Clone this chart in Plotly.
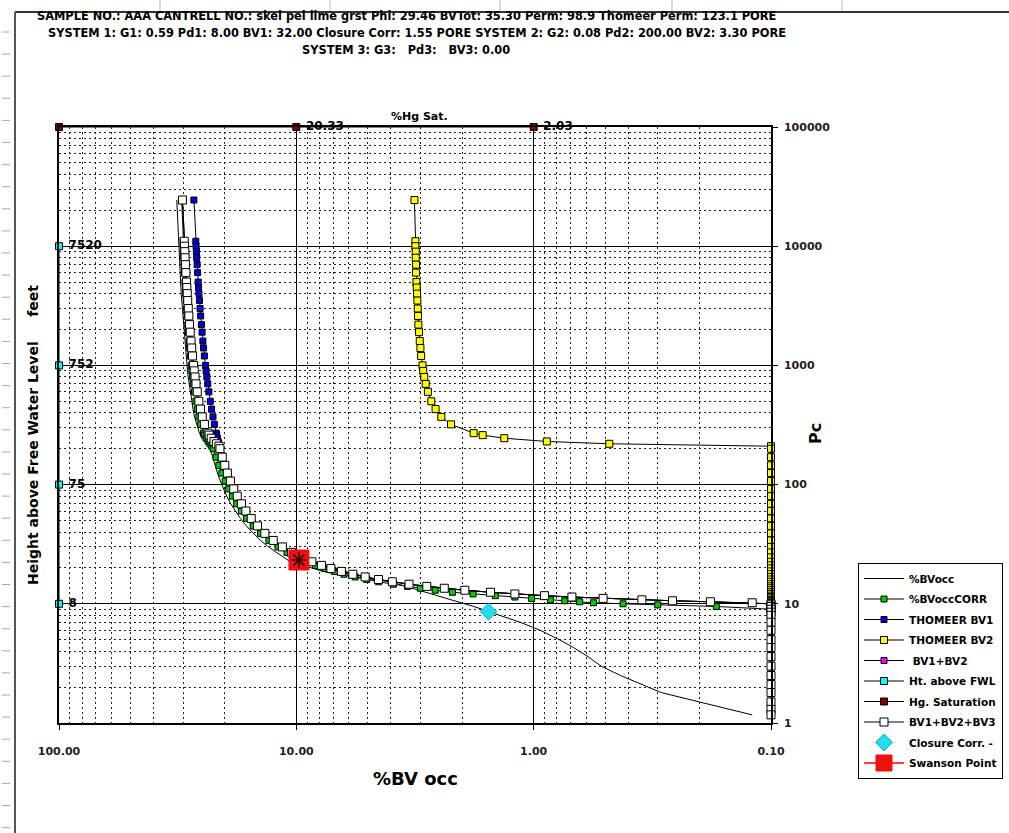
import plotly.graph_objects as go

# ---------------- data ----------------
pc = [24400, 11000, 10000, 9000, 8000, 7000, 6000, 5000, 4500, 4000,
      3500, 3000, 2600, 2200, 1900, 1600, 1400, 1200, 1000, 900,
      800, 700, 600, 500, 430, 370, 320, 270, 260, 245,
      230, 220, 210, 200, 170, 145, 125, 107, 92, 80,
      69, 60, 52, 45, 39, 34, 30, 27, 24.5, 22.5,
      21, 19.8, 18.7, 17.7, 16.8, 16, 15.3, 14.6, 14, 13.5,
      13, 12.5, 12.1, 11.7, 11.4, 11.1, 10.8, 10.6, 10.4, 10.2,
      10.0, 9.8, 9.5, 9.0, 8.5, 8.0, 7.0, 6.0, 5.0, 4.3,
      3.6, 3.0, 2.5, 2.1, 1.8, 1.5, 1.3, 1.17]

bvocc = [31.9, 31.4, 31.3, 31.2, 31.15, 31.05, 30.9, 30.75, 30.65, 30.55,
         30.4, 30.25, 30.1, 29.9, 29.75, 29.55, 29.35, 29.15, 28.9, 28.75,
         28.55, 28.3, 28.0, 27.6, 27.25, 26.85, 26.35, 25.6, 25.35, 24.95,
         24.4, 23.9, 23.3, 23.05, 22.55, 22.05, 21.5, 20.9, 20.3, 19.65,
         18.9, 18.1, 17.2, 16.25, 15.2, 14.15, 13.1, 12.15, 11.3, 10.6,
         9.4, 8.5, 7.7, 6.8, 5.6, 4.7, 4.03, 3.71, 3.45, 3.24,
         3.03, 2.83, 2.67, 2.52, 2.41, 2.30, 2.19, 2.12, 2.05, 1.98,
         1.92, 1.87, 1.79, 1.65, 1.53, 1.39, 1.14, 0.94, 0.78, 0.68,
         0.59, 0.52, 0.43, 0.35, 0.29, 0.20, 0.15, 0.12]

bvocc_corr = [30.4, 30.0, 29.9, 29.85, 29.8, 29.7, 29.6, 29.45, 29.35, 29.25,
              29.1, 28.95, 28.8, 28.65, 28.5, 28.3, 28.15, 27.95, 27.7, 27.55,
              27.35, 27.15, 26.85, 26.5, 26.15, 25.75, 25.3, 24.6, 24.4, 24.0,
              23.5, 23.1, 22.7, 22.4, 21.8, 21.2, 20.6, 19.95, 19.3, 18.6,
              17.85, 17.05, 16.2, 15.2, 14.15, 13.05, 11.95, 10.95, 9.95, 9.05,
              8.3, 7.6, 6.9, 6.3, 5.65, 5.05, 4.5, 3.9, 3.4, 3.0,
              2.6, 2.2, 1.8, 1.45, 1.2, 1.02, 0.85, 0.74, 0.64, 0.56,
              0.42, 0.3, 0.17, 0.1, 0.1, 0.1, 0.1, 0.1, 0.1, 0.1,
              0.1, 0.1, 0.1, 0.1, 0.1, 0.1, 0.1, 0.1]

thomeer_bv1 = [27.01, 26.52, 26.45, 26.37, 26.29, 26.19, 26.06, 25.91, 25.82, 25.72,
               25.59, 25.44, 25.30, 25.12, 24.96, 24.76, 24.60, 24.40, 24.15, 24.00,
               23.82, 23.62, 23.36, 23.04, 22.76, 22.45, 22.14, 21.75, 21.66, 21.51,
               21.35, 21.24, 21.11, 20.98, 20.52, 20.02, 19.52, 18.95, 18.35, 17.74,
               17.03, 16.31, 15.49, 14.57, 13.57, 12.51, 11.45, 10.47, 9.51, 8.60,
               7.83, 7.15, 6.46, 5.78, 5.13, 4.51, 3.94, 3.35, 2.82, 2.38,
               1.95, 1.52, 1.20, 0.90, 0.69, 0.51, 0.35, 0.26, 0.18, 0.12,
               0.1, 0.1, 0.1, 0.1, 0.1, 0.1, 0.1, 0.1, 0.1, 0.1,
               0.1, 0.1, 0.1, 0.1, 0.1, 0.1, 0.1, 0.1]

thomeer_bv2 = [3.18, 3.15, 3.15, 3.14, 3.14, 3.13, 3.13, 3.12, 3.11, 3.10,
               3.09, 3.08, 3.07, 3.06, 3.04, 3.02, 3.00, 2.98, 2.94, 2.92,
               2.89, 2.85, 2.79, 2.70, 2.59, 2.45, 2.23, 1.79, 1.64, 1.33,
               0.88, 0.48, 0.1, 0.1, 0.1, 0.1, 0.1, 0.1, 0.1, 0.1,
               0.1, 0.1, 0.1, 0.1, 0.1, 0.1, 0.1, 0.1, 0.1, 0.1,
               0.1, 0.1, 0.1, 0.1, 0.1, 0.1, 0.1, 0.1, 0.1, 0.1,
               0.1, 0.1, 0.1, 0.1, 0.1, 0.1, 0.1, 0.1, 0.1, 0.1,
               0.1, 0.1, 0.1, 0.1, 0.1, 0.1, 0.1, 0.1, 0.1, 0.1,
               0.1, 0.1, 0.1, 0.1, 0.1, 0.1, 0.1, 0.1]

bv1_bv2 = [30.19, 29.67, 29.60, 29.51, 29.43, 29.32, 29.19, 29.03, 28.93, 28.82,
           28.68, 28.52, 28.37, 28.18, 28.00, 27.78, 27.60, 27.38, 27.09, 26.92,
           26.71, 26.47, 26.15, 25.74, 25.35, 24.90, 24.37, 23.54, 23.30, 22.84,
           22.23, 21.72, 21.19, 20.98, 20.52, 20.02, 19.52, 18.95, 18.35, 17.74,
           17.03, 16.31, 15.49, 14.57, 13.57, 12.51, 11.45, 10.47, 9.51, 8.60,
           7.83, 7.15, 6.46, 5.78, 5.13, 4.51, 3.94, 3.35, 2.82, 2.38,
           1.95, 1.52, 1.20, 0.90, 0.69, 0.51, 0.35, 0.26, 0.18, 0.12,
           0.1, 0.1, 0.1, 0.1, 0.1, 0.1, 0.1, 0.1, 0.1, 0.1,
           0.1, 0.1, 0.1, 0.1, 0.1, 0.1, 0.1, 0.1]
bv1_bv2_bv3 = bv1_bv2  # BV3 = 0.00

ht_x = [100, 100, 100, 100]
ht_pc = [10000, 1000, 100, 10]
ht_labels = ["7520", "752", "75", "8"]

hg_x = [100, 10, 1]
hg_pc = [100000, 100000, 100000]
hg_labels = ["", "20.33", "2.03"]

closure_x = [1.55]
closure_pc = [8.6]

swanson_x = [9.75]
swanson_pc = [23.3]

title_lines = [
    "SAMPLE NO.: AAA CANTRELL NO.: skel pel lime grst Phi: 29.46 BVTot: 35.30 Perm: 98.9 Thomeer Perm: 123.1 PORE",
    "SYSTEM 1: G1: 0.59 Pd1: 8.00 BV1: 32.00 Closure Corr: 1.55 PORE SYSTEM 2: G2: 0.08 Pd2: 200.00 BV2: 3.30 PORE",
    "SYSTEM 3: G3:   Pd3:   BV3: 0.00",
]

# ---------------- layout helpers ----------------
W, H = 1009, 833
L, R, T, B = 59, 771, 127, 723
FONT = "DejaVu Sans"


def px(xp):
    return (xp - L) / (R - L)


def py(yp):
    return (B - yp) / (B - T)


fig = go.Figure()


def sq(color, size=6, symbol="square"):
    return dict(symbol=symbol, size=size, color=color, line=dict(color="black", width=1))


line_k = dict(color="black", width=1)
lblfont = dict(family=FONT, size=12, color="black", weight="bold")

fig.add_trace(go.Scatter(x=bvocc, y=pc, name="%BVocc", mode="lines", line=line_k))
fig.add_trace(go.Scatter(x=bvocc_corr, y=pc, name="%BVoccCORR", mode="lines+markers",
                         line=line_k, marker=sq("#00CC00", 6)))
fig.add_trace(go.Scatter(x=thomeer_bv1, y=pc, name="THOMEER BV1", mode="lines+markers",
                         line=line_k, marker=sq("#0000DD", 6)))
fig.add_trace(go.Scatter(x=thomeer_bv2, y=pc, name="THOMEER BV2", mode="lines+markers",
                         line=line_k, marker=sq("#FFFF00", 7)))
fig.add_trace(go.Scatter(x=bv1_bv2, y=pc, name=" BV1+BV2", mode="lines+markers",
                         line=line_k, marker=sq("#FF00FF", 6)))
fig.add_trace(go.Scatter(x=ht_x, y=ht_pc, name="Ht. above FWL", mode="lines+markers+text",
                         line=line_k, marker=sq("#00FFFF", 7),
                         text=[" " + t for t in ht_labels],
                         textposition="middle right", textfont=lblfont))
fig.add_trace(go.Scatter(x=hg_x, y=hg_pc, name="Hg. Saturation", mode="lines+markers+text",
                         line=line_k, marker=sq("#800000", 7),
                         text=[" " + t if t else t for t in hg_labels],
                         textposition="middle right", textfont=lblfont))
fig.add_trace(go.Scatter(x=bv1_bv2_bv3, y=pc, name="BV1+BV2+BV3", mode="lines+markers",
                         line=line_k, marker=sq("white", 8)))
fig.add_trace(go.Scatter(x=closure_x, y=closure_pc, name="Closure Corr. -", mode="markers",
                         marker=dict(symbol="diamond", size=13, color="#22DDEE",
                                     line=dict(color="#22AACC", width=1))))
fig.add_trace(go.Scatter(x=swanson_x, y=swanson_pc, name="Swanson Point", mode="lines+markers",
                         line=dict(color="red", width=1.5),
                         marker=dict(symbol="square", size=20, color="#F01010",
                                     line=dict(color="#F01010", width=1))))
fig.add_trace(go.Scatter(x=swanson_x, y=swanson_pc, showlegend=False, mode="markers",
                         marker=dict(symbol="asterisk-open", size=13, color="black",
                                     line=dict(color="black", width=1.2))))

for tr in fig.data:
    tr.cliponaxis = False
    if tr.name:
        tr.legendgroup = tr.name

axis_common = dict(
    type="log", showline=True, linecolor="black", linewidth=1.5, mirror=True,
    showgrid=True, gridcolor="black", gridwidth=1,
    ticks="outside", ticklen=5, tickcolor="black",
    tickfont=dict(family=FONT, size=11, color="#222", weight="bold"),
    minor=dict(dtick="D1", showgrid=True, gridcolor="#222", griddash="2px,3px",
               gridwidth=1, ticks=""),
    zeroline=False,
)

fig.update_xaxes(range=[2, -1], dtick=1, tickformat=".2f", ticklabelstandoff=12,
                 **axis_common)
fig.update_yaxes(range=[0, 5], dtick=1, tickformat="d", side="right",
                 ticklabelstandoff=4, **axis_common)

ann = []
for i, (t, xc, yc) in enumerate(zip(title_lines, [406, 417, 406], [16, 33, 50])):
    ann.append(dict(text=t, x=px(xc), y=py(yc), xref="paper", yref="paper",
                    xanchor="center", yanchor="middle", showarrow=False,
                    font=dict(family=FONT, size=11.4, color="black", weight="bold")))
ann.append(dict(text="%Hg Sat.", x=px(419), y=py(117), xref="paper", yref="paper",
                xanchor="center", yanchor="middle", showarrow=False,
                font=dict(family=FONT, size=11, color="black", weight="bold")))
ann.append(dict(text="%BV occ", x=px(415), y=py(778), xref="paper", yref="paper",
                xanchor="center", yanchor="middle", showarrow=False,
                font=dict(family=FONT, size=18, color="black", weight="bold")))
ann.append(dict(text="Pc", x=px(815), y=py(434), xref="paper", yref="paper",
                xanchor="center", yanchor="middle", showarrow=False, textangle=-90,
                font=dict(family=FONT, size=16, color="black", weight="bold")))
ann.append(dict(text="Height above Free Water Level     feet", x=px(33), y=py(435),
                xref="paper", yref="paper", xanchor="center", yanchor="middle",
                showarrow=False, textangle=-90,
                font=dict(family=FONT, size=14, color="black", weight="bold")))

# spreadsheet frame decoration
shapes = [
    dict(type="line", xref="paper", yref="paper", x0=px(15), x1=px(W + 5),
         y0=py(12), y1=py(12), line=dict(color="#333", width=2)),
    dict(type="line", xref="paper", yref="paper", x0=px(15), x1=px(15),
         y0=py(12), y1=py(H + 5), line=dict(color="#555", width=2)),
]
for k in range(38):
    yy = 32 + 22.1 * k
    if yy > H:
        break
    shapes.append(dict(type="line", xref="paper", yref="paper", x0=px(2), x1=px(10),
                       y0=py(yy), y1=py(yy), line=dict(color="#AAA", width=1)))
for xx in [160, 330, 500, 672, 842]:
    shapes.append(dict(type="line", xref="paper", yref="paper", x0=px(xx), x1=px(xx),
                       y0=py(0), y1=py(11), line=dict(color="#BBB", width=1)))

fig.update_layout(
    width=W, height=H,
    margin=dict(l=L, r=W - R, t=T, b=H - B, autoexpand=False),
    paper_bgcolor="white", plot_bgcolor="white",
    font=dict(family=FONT, color="black"),
    annotations=ann, shapes=shapes,
    legend=dict(x=px(858), y=py(563), xanchor="left", yanchor="top",
                bordercolor="black", borderwidth=1, bgcolor="white",
                font=dict(family=FONT, size=10.5, color="black", weight="bold"),
                itemwidth=40, tracegroupgap=1.5),
)

fig.write_html("out.html")
